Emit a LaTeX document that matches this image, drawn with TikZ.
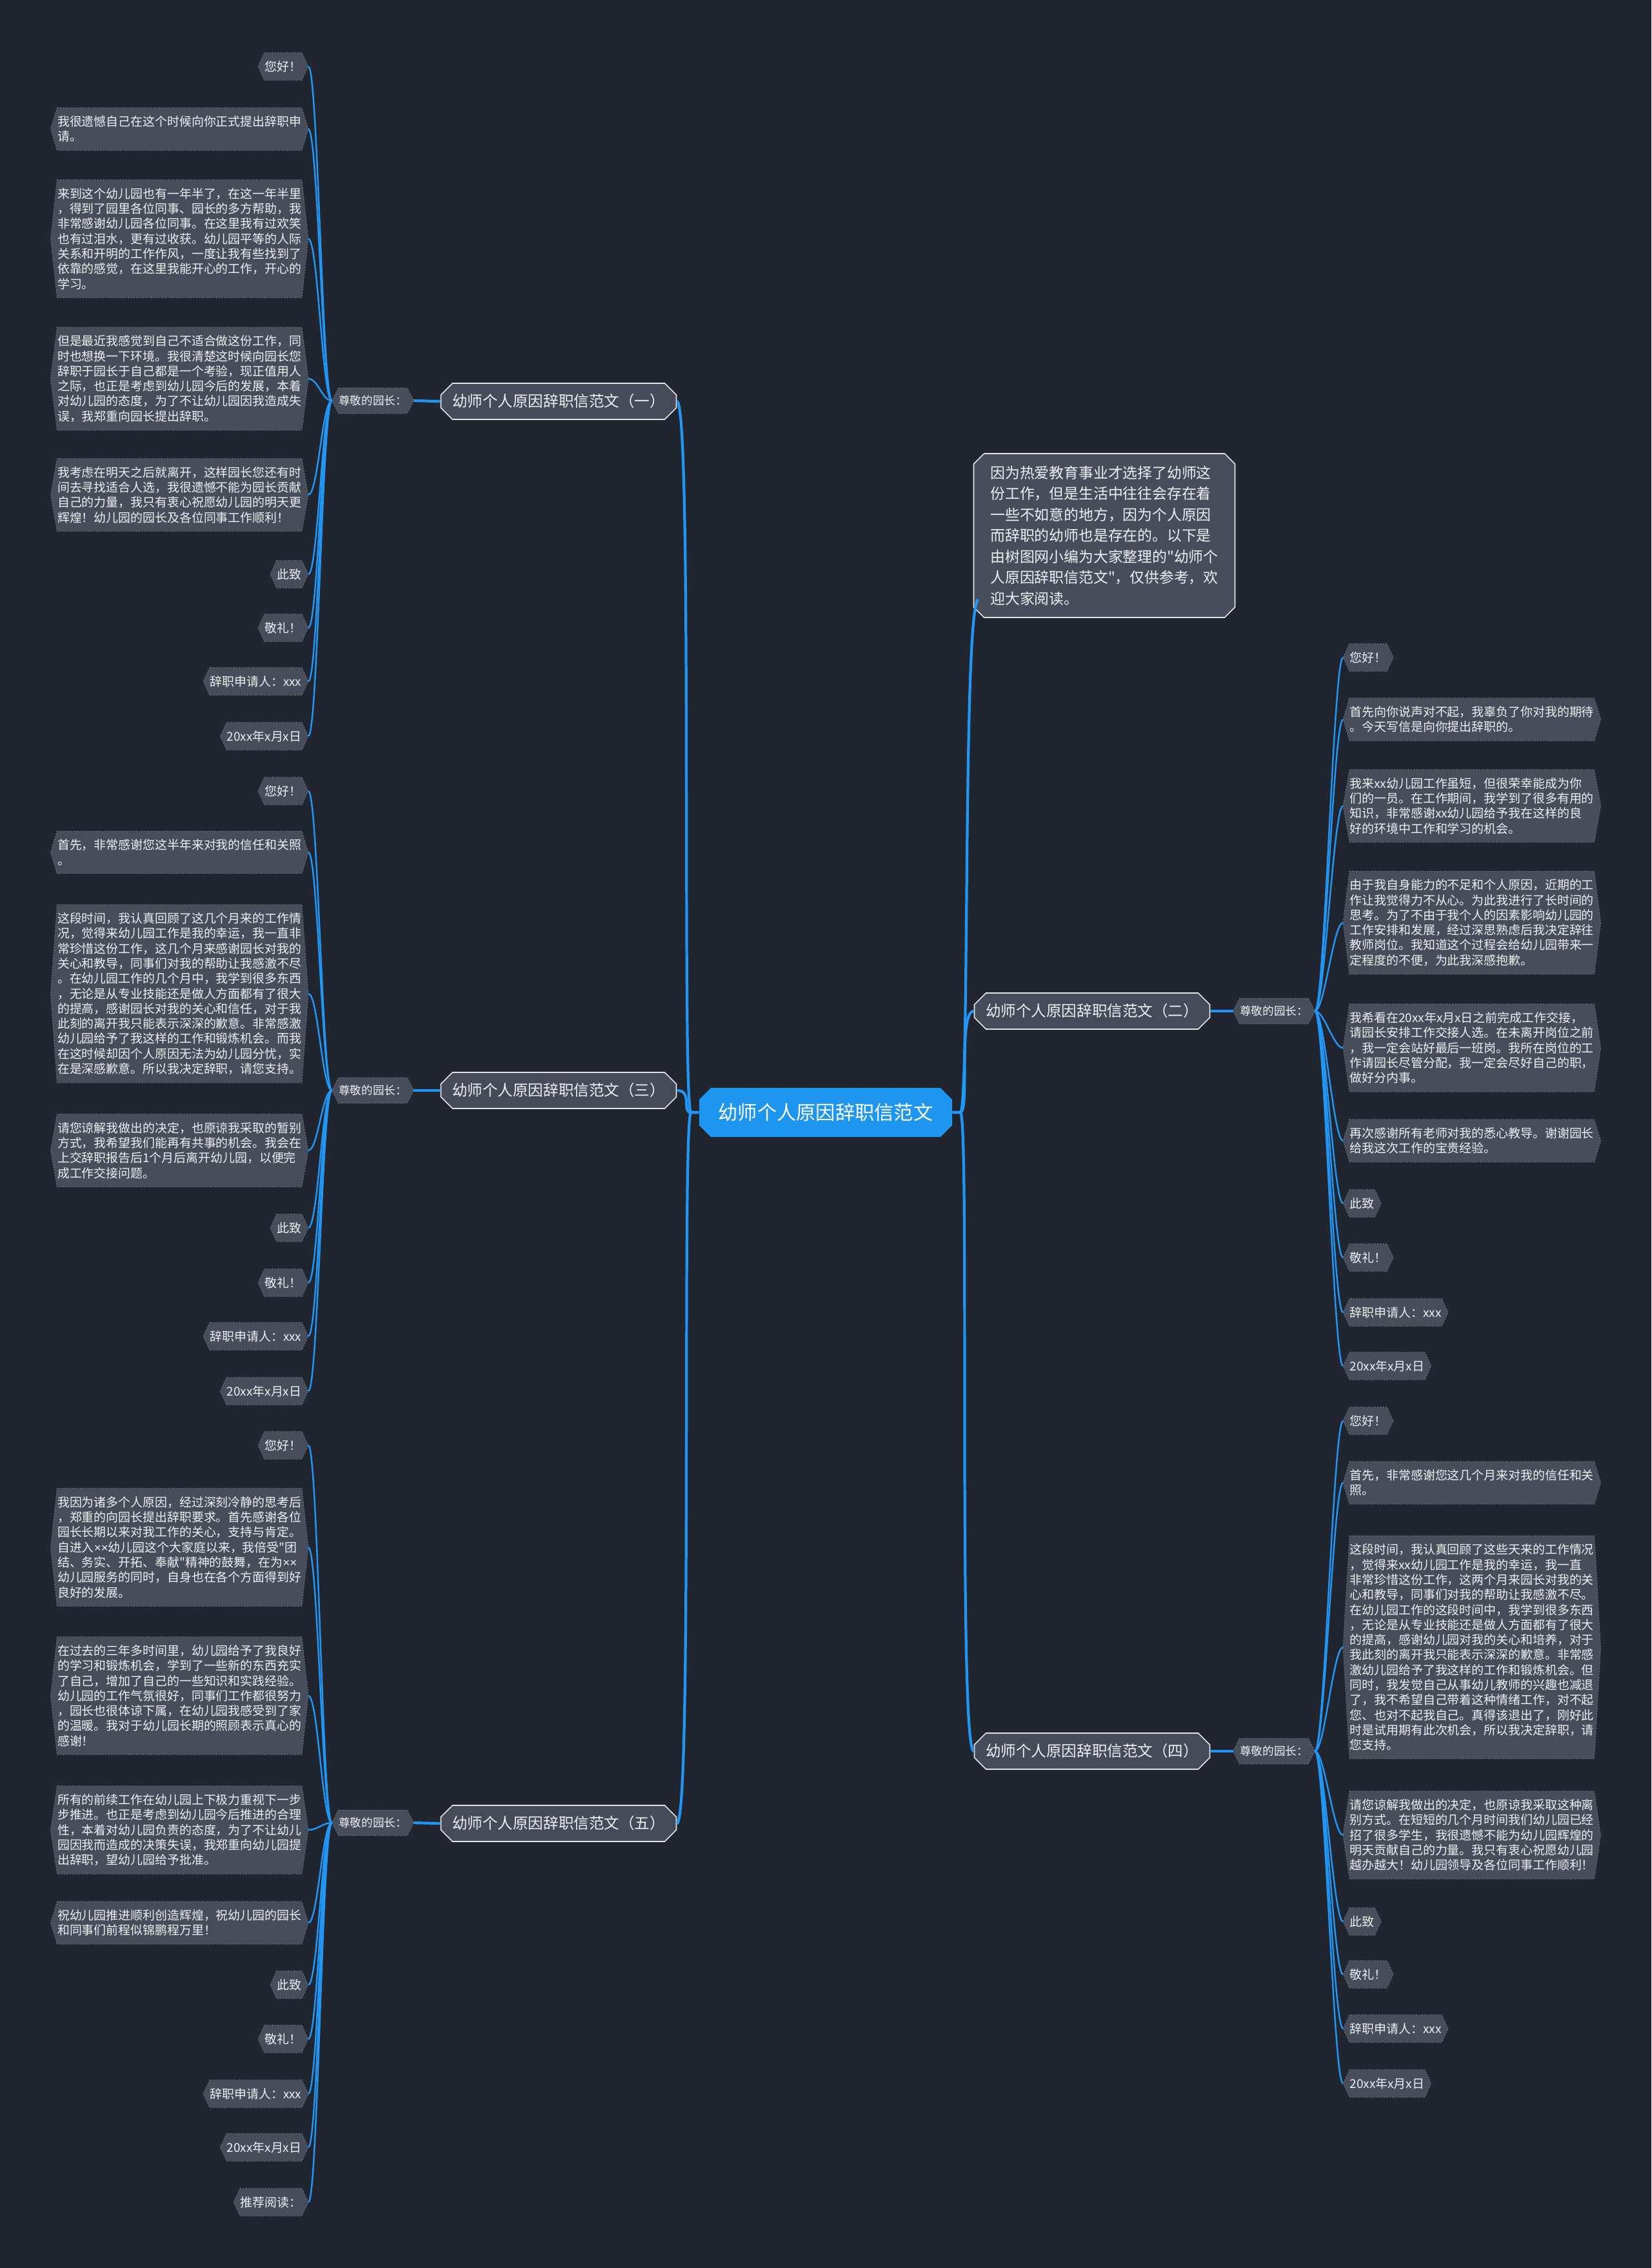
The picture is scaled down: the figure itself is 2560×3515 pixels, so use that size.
\documentclass[tikz,border=0pt]{standalone}
\usepackage{fontspec}
\setmainfont{Noto Sans CJK SC}[Ligatures=TeXOff]
\newfontfamily\latinf{Liberation Sans}
\usetikzlibrary{shapes.misc,backgrounds}
\definecolor{bgc}{HTML}{212530}
\definecolor{leaffill}{HTML}{474D5B}
\definecolor{leafdraw}{HTML}{9AA0AA}
\definecolor{txt}{HTML}{EEF0F2}
\definecolor{brfill}{HTML}{454B59}
\definecolor{brdraw}{HTML}{E2E4E8}
\definecolor{blueline}{HTML}{2196F3}
\definecolor{ctrfill}{HTML}{1E96F0}
\newcommand\leaffont{\fontsize{5.38pt}{6.63pt}\selectfont}
\newcommand\labfont{\fontsize{5pt}{6pt}\selectfont}
\newcommand\brfont{\fontsize{6.7pt}{8pt}\selectfont}
\newcommand\ctrfont{\fontsize{8.6pt}{10pt}\selectfont}
\newcommand\introfont{\fontsize{6.49pt}{9.25pt}\selectfont}
\newcommand\xmul{{\latinf ×}}
\newcommand\hexbox[1]{\path[leafbox] (#1.north west) -- ([xshift=-1mm]#1.west) -- (#1.south west) -- (#1.south east) -- ([xshift=1mm]#1.east) -- (#1.north east) -- cycle;}
\newcommand\lleaf[3]{\node[leaf,anchor=east] (#1) at (468,#2) {#3};}
\newcommand\rleaf[3]{\node[leaf,anchor=west] (#1) at (2092,#2) {#3};}
\begin{document}
\begin{tikzpicture}[x=0.1mm,y=-0.1mm,
  leaf/.style={font=\leaffont, text=txt, align=left, inner xsep=0pt, inner ysep=1.2mm},
  hlab/.style={font=\labfont, text=txt, inner xsep=0pt, inner ysep=1.1mm},
  leafbox/.style={fill=leaffill, draw=leafdraw, densely dotted, line width=0.25pt},
  brnode/.style={chamfered rectangle, chamfered rectangle xsep=0.9mm, chamfered rectangle ysep=0.9mm, font=\brfont, text=txt, fill=brfill, draw=brdraw, line width=0.45pt, minimum width=36.5mm, minimum height=5.6mm, inner sep=0pt},
  ctrnode/.style={chamfered rectangle, chamfered rectangle xsep=0.9mm, chamfered rectangle ysep=0.9mm, font=\ctrfont, text=white, fill=ctrfill, minimum width=39.2mm, minimum height=7.6mm, inner sep=0pt},
  intronode/.style={chamfered rectangle, chamfered rectangle xsep=0.8mm, chamfered rectangle ysep=0.8mm, font=\introfont, text=txt, fill=leaffill, draw=brdraw, line width=0.45pt, align=left, minimum width=40.5mm, minimum height=25.4mm, inner sep=0pt},
  mainline/.style={draw=blueline, line width=1.2pt},
  leafline/.style={draw=blueline, line width=0.7pt}]
\useasboundingbox (0,0) rectangle (2560,3515);

% central and branches
\node[ctrnode] (ctr) at (1280,1724) {幼师个人原因辞职信范文};
\node[brnode] (B1) at (866,622) {幼师个人原因辞职信范文（一）};
\node[brnode] (B3) at (866,1690) {幼师个人原因辞职信范文（三）};
\node[brnode] (B5) at (866,2826) {幼师个人原因辞职信范文（五）};
\node[brnode] (B2) at (1693,1567) {幼师个人原因辞职信范文（二）};
\node[brnode] (B4) at (1693,2714) {幼师个人原因辞职信范文（四）};
\node[intronode] (intro) at (1712,830) {因为热爱教育事业才选择了幼师这\\份工作，但是生活中往往会存在着\\一些不如意的地方，因为个人原因\\而辞职的幼师也是存在的。以下是\\由树图网小编为大家整理的"幼师个\\人原因辞职信范文"，仅供参考，欢\\迎大家阅读。};

\node[hlab] (L1) at (578,621) {尊敬的园长：};
\node[hlab] (L3) at (578,1690) {尊敬的园长：};
\node[hlab] (L5) at (578,2825) {尊敬的园长：};
\node[hlab] (L2) at (1975,1567) {尊敬的园长：};
\node[hlab] (L4) at (1975,2714) {尊敬的园长：};

% branch 1
\lleaf{a1}{103}{您好！}
\lleaf{a2}{200}{我很遗憾自己在这个时候向你正式提出辞职申\\请。}
\lleaf{a3}{370}{来到这个幼儿园也有一年半了，在这一年半里\\，得到了园里各位同事、园长的多方帮助，我\\非常感谢幼儿园各位同事。在这里我有过欢笑\\也有过泪水，更有过收获。幼儿园平等的人际\\关系和开明的工作作风，一度让我有些找到了\\依靠的感觉，在这里我能开心的工作，开心的\\学习。}
\lleaf{a4}{587}{但是最近我感觉到自己不适合做这份工作，同\\时也想换一下环境。我很清楚这时候向园长您\\辞职于园长于自己都是一个考验，现正值用人\\之际，也正是考虑到幼儿园今后的发展，本着\\对幼儿园的态度，为了不让幼儿园因我造成失\\误，我郑重向园长提出辞职。}
\lleaf{a5}{767}{我考虑在明天之后就离开，这样园长您还有时\\间去寻找适合人选，我很遗憾不能为园长贡献\\自己的力量，我只有衷心祝愿幼儿园的明天更\\辉煌！幼儿园的园长及各位同事工作顺利！}
\lleaf{a6}{890}{此致}
\lleaf{a7}{973}{敬礼！}
\lleaf{a8}{1056}{辞职申请人：xxx}
\lleaf{a9}{1141}{20xx年x月x日}

% branch 3
\lleaf{c1}{1226}{您好！}
\lleaf{c2}{1321}{首先，非常感谢您这半年来对我的信任和关照\\。}
\lleaf{c3}{1540}{这段时间，我认真回顾了这几个月来的工作情\\况，觉得来幼儿园工作是我的幸运，我一直非\\常珍惜这份工作，这几个月来感谢园长对我的\\关心和教导，同事们对我的帮助让我感激不尽\\。在幼儿园工作的几个月中，我学到很多东西\\，无论是从专业技能还是做人方面都有了很大\\的提高，感谢园长对我的关心和信任，对于我\\此刻的离开我只能表示深深的歉意。非常感激\\幼儿园给予了我这样的工作和锻炼机会。而我\\在这时候却因个人原因无法为幼儿园分忧，实\\在是深感歉意。所以我决定辞职，请您支持。}
\lleaf{c4}{1783}{请您谅解我做出的决定，也原谅我采取的暂别\\方式，我希望我们能再有共事的机会。我会在\\上交辞职报告后1个月后离开幼儿园，以便完\\成工作交接问题。}
\lleaf{c5}{1903}{此致}
\lleaf{c6}{1988}{敬礼！}
\lleaf{c7}{2071}{辞职申请人：xxx}
\lleaf{c8}{2156}{20xx年x月x日}

% branch 5
\lleaf{e1}{2240}{您好！}
\lleaf{e2}{2398}{我因为诸多个人原因，经过深刻冷静的思考后\\，郑重的向园长提出辞职要求。首先感谢各位\\园长长期以来对我工作的关心，支持与肯定。\\自进入\xmul\xmul 幼儿园这个大家庭以来，我倍受"团\\结、务实、开拓、奉献"精神的鼓舞，在为\xmul\xmul\\幼儿园服务的同时，自身也在各个方面得到好\\良好的发展。}
\lleaf{e3}{2628}{在过去的三年多时间里，幼儿园给予了我良好\\的学习和锻炼机会，学到了一些新的东西充实\\了自己，增加了自己的一些知识和实践经验。\\幼儿园的工作气氛很好，同事们工作都很努力\\，园长也很体谅下属，在幼儿园我感受到了家\\的温暖。我对于幼儿园长期的照顾表示真心的\\感谢！}
\lleaf{e4}{2836}{所有的前续工作在幼儿园上下极力重视下一步\\步推进。也正是考虑到幼儿园今后推进的合理\\性，本着对幼儿园负责的态度，为了不让幼儿\\园因我而造成的决策失误，我郑重向幼儿园提\\出辞职，望幼儿园给予批准。}
\lleaf{e5}{2980}{祝幼儿园推进顺利创造辉煌，祝幼儿园的园长\\和同事们前程似锦鹏程万里！}
\lleaf{e6}{3076}{此致}
\lleaf{e7}{3160}{敬礼！}
\lleaf{e8}{3245}{辞职申请人：xxx}
\lleaf{e9}{3328}{20xx年x月x日}
\lleaf{e10}{3413}{推荐阅读：}

% branch 2
\rleaf{b1}{1019}{您好！}
\rleaf{b2}{1115}{首先向你说声对不起，我辜负了你对我的期待\\。今天写信是向你提出辞职的。}
\rleaf{b3}{1249}{我来xx幼儿园工作虽短，但很荣幸能成为你\\们的一员。在工作期间，我学到了很多有用的\\知识，非常感谢xx幼儿园给予我在这样的良\\好的环境中工作和学习的机会。}
\rleaf{b4}{1430}{由于我自身能力的不足和个人原因，近期的工\\作让我觉得力不从心。为此我进行了长时间的\\思考。为了不由于我个人的因素影响幼儿园的\\工作安排和发展，经过深思熟虑后我决定辞往\\教师岗位。我知道这个过程会给幼儿园带来一\\定程度的不便，为此我深感抱歉。}
\rleaf{b5}{1624}{我希看在20xx年x月x日之前完成工作交接，\\请园长安排工作交接人选。在未离开岗位之前\\，我一定会站好最后一班岗。我所在岗位的工\\作请园长尽管分配，我一定会尽好自己的职，\\做好分内事。}
\rleaf{b6}{1768}{再次感谢所有老师对我的悉心教导。谢谢园长\\给我这次工作的宝贵经验。}
\rleaf{b7}{1865}{此致}
\rleaf{b8}{1949}{敬礼！}
\rleaf{b9}{2034}{辞职申请人：xxx}
\rleaf{b10}{2117}{20xx年x月x日}

% branch 4
\rleaf{d1}{2202}{您好！}
\rleaf{d2}{2298}{首先，非常感谢您这几个月来对我的信任和关\\照。}
\rleaf{d3}{2553}{这段时间，我认真回顾了这些天来的工作情况\\，觉得来xx幼儿园工作是我的幸运，我一直\\非常珍惜这份工作，这两个月来园长对我的关\\心和教导，同事们对我的帮助让我感激不尽。\\在幼儿园工作的这段时间中，我学到很多东西\\，无论是从专业技能还是做人方面都有了很大\\的提高，感谢幼儿园对我的关心和培养，对于\\我此刻的离开我只能表示深深的歉意。非常感\\激幼儿园给予了我这样的工作和锻炼机会。但\\同时，我发觉自己从事幼儿教师的兴趣也减退\\了，我不希望自己带着这种情绪工作，对不起\\您、也对不起我自己。真得该退出了，刚好此\\时是试用期有此次机会，所以我决定辞职，请\\您支持。}
\rleaf{d4}{2844}{请您谅解我做出的决定，也原谅我采取这种离\\别方式。在短短的几个月时间我们幼儿园已经\\招了很多学生，我很遗憾不能为幼儿园辉煌的\\明天贡献自己的力量。我只有衷心祝愿幼儿园\\越办越大！幼儿园领导及各位同事工作顺利！}
\rleaf{d5}{2978}{此致}
\rleaf{d6}{3060}{敬礼！}
\rleaf{d7}{3144}{辞职申请人：xxx}
\rleaf{d8}{3229}{20xx年x月x日}

\begin{scope}[on background layer]
\fill[bgc] (0,0) rectangle (2560,3515);
\foreach \n in {a1,a2,a3,a4,a5,a6,a7,a8,a9,c1,c2,c3,c4,c5,c6,c7,c8,e1,e2,e3,e4,e5,e6,e7,e8,e9,e10,b1,b2,b3,b4,b5,b6,b7,b8,b9,b10,d1,d2,d3,d4,d5,d6,d7,d8,L1,L2,L3,L4,L5} {\hexbox{\n}}
\end{scope}

% connectors: centre to branches
\draw[mainline] (ctr.west) -- ++(-12,0) .. controls +(-15,0) and +(25,0) .. (B1.east);
\draw[mainline] (ctr.west) -- ++(-12,0) .. controls +(-15,0) and +(25,0) .. (B3.east);
\draw[mainline] (ctr.west) -- ++(-12,0) .. controls +(-15,0) and +(25,0) .. (B5.east);
\draw[mainline] (ctr.east) -- ++(12,0) .. controls +(15,0) and +(-25,0) .. (B2.west);
\draw[mainline] (ctr.east) -- ++(12,0) .. controls +(15,0) and +(-25,0) .. (B4.west);
\draw[mainline] (ctr.east) -- ++(12,0) .. controls +(15,0) and +(-25,0) .. ([yshift=2mm]intro.south west);
% branches to labels
\draw[mainline] (B1.west) -- ([xshift=1mm]L1.east);
\draw[mainline] (B3.west) -- ([xshift=1mm]L3.east);
\draw[mainline] (B5.west) -- ([xshift=1mm]L5.east);
\draw[mainline] (B2.east) -- ([xshift=-1mm]L2.west);
\draw[mainline] (B4.east) -- ([xshift=-1mm]L4.west);
% labels to leaves
\foreach \n in {a1,a2,a3,a4,a5,a6,a7,a8,a9}
  {\draw[leafline] ([xshift=-1mm]L1.west) .. controls +(-15,0) and +(15,0) .. ([xshift=1mm]\n.east);}
\foreach \n in {c1,c2,c3,c4,c5,c6,c7,c8}
  {\draw[leafline] ([xshift=-1mm]L3.west) .. controls +(-15,0) and +(15,0) .. ([xshift=1mm]\n.east);}
\foreach \n in {e1,e2,e3,e4,e5,e6,e7,e8,e9,e10}
  {\draw[leafline] ([xshift=-1mm]L5.west) .. controls +(-15,0) and +(15,0) .. ([xshift=1mm]\n.east);}
\foreach \n in {b1,b2,b3,b4,b5,b6,b7,b8,b9,b10}
  {\draw[leafline] ([xshift=1mm]L2.east) .. controls +(15,0) and +(-15,0) .. ([xshift=-1mm]\n.west);}
\foreach \n in {d1,d2,d3,d4,d5,d6,d7,d8}
  {\draw[leafline] ([xshift=1mm]L4.east) .. controls +(15,0) and +(-15,0) .. ([xshift=-1mm]\n.west);}
\end{tikzpicture}
\end{document}
